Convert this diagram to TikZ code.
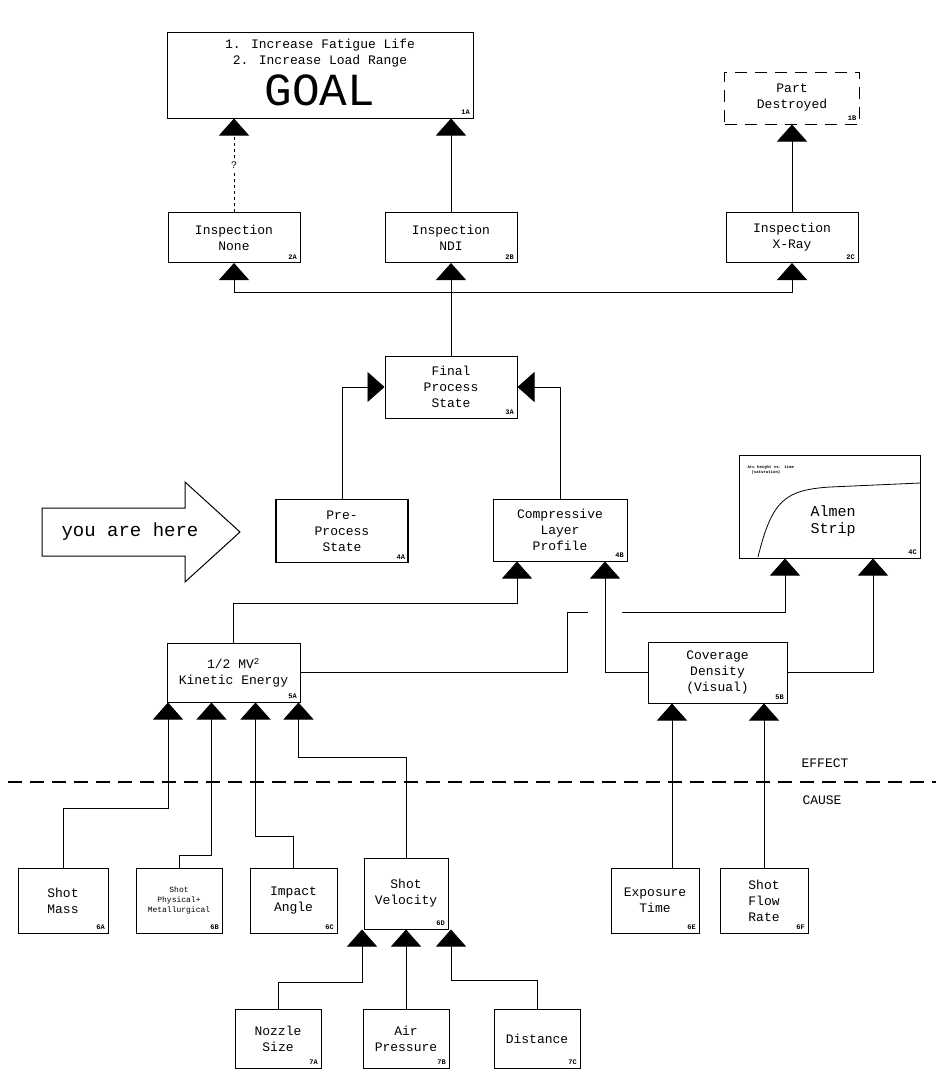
\documentclass[tikz,border=0pt]{standalone}
\usepackage{fontspec}
\setmainfont{Liberation Mono}
\usetikzlibrary{arrows.meta,positioning}

\begin{document}
\begin{tikzpicture}[x=1pt,y=-1pt]
\tikzset{box/.style={draw,line width=1pt,minimum width=132pt,minimum height=50pt,inner sep=2pt,align=center,font=\fontsize{13}{16}\selectfont},
         small/.style={box,minimum width=87pt,minimum height=65pt},
         idtag/.style={font=\fontsize{7}{8}\selectfont\bfseries,inner sep=1.5pt,anchor=south east},
         flow/.style={line width=0.9pt,-{Triangle[width=30pt,length=17pt]}},
         wire/.style={line width=0.9pt}}
\useasboundingbox (0,0) rectangle (936,1076);

% goal row
\node[box,minimum width=306pt,minimum height=86pt,inner sep=0pt] (goal) at (320,75) {1. Increase Fatigue Life\\2. Increase Load Range\\[30pt]};
\node[font=\fontsize{46}{46}\selectfont,inner sep=0pt] (goal-txt) at (320,90) {GOAL};
\node[box,dashed,dash pattern=on 12pt off 8pt,minimum width=135pt,minimum height=52pt] (dest) at (792,98) {Part\\Destroyed};
\node[idtag] (goal-id) at ([xshift=-2pt,yshift=2pt]goal.south east) {1A};
\node[idtag] (dest-id) at ([xshift=-2pt,yshift=2pt]dest.south east) {1B};

% inspection
\node[box] (insA) at (234,237.5) {Inspection\\None};
\node[box] (insB) at (451,237.5) {Inspection\\NDI};
\node[box] (insC) at (792,237.5) {Inspection\\X-Ray};
\node[idtag] (insA-id) at ([xshift=-2pt,yshift=2pt]insA.south east) {2A};
\node[idtag] (insB-id) at ([xshift=-2pt,yshift=2pt]insB.south east) {2B};
\node[idtag] (insC-id) at ([xshift=-2pt,yshift=2pt]insC.south east) {2C};

\draw[flow,dashed] (insA.north) -- node[fill=white,inner sep=1pt] (qmark) {?} (goal.south -| insA.north);
\draw[flow] (insB.north) -- (goal.south -| insB.north);
\draw[flow] (insC.north) -- (dest.south);

% final state
\node[box,minimum height=62pt] (final) at (451,387) {Final\\Process\\State};
\node[idtag] (final-id) at ([xshift=-2pt,yshift=2pt]final.south east) {3A};
\coordinate (bus) at (451,292);
\draw[flow] (final.north) -- (insB.south);
\draw[flow] (bus) -| (insA.south);
\draw[flow] (bus) -| (insC.south);

% you are here
\draw[line width=1pt] (42,508) -- (185,508) -- (185,482) -- (240,532) -- (185,582) -- (185,556) -- (42,556) -- cycle;
\node[font=\fontsize{19}{20}\selectfont] (here) at (130,532) {you are here};

% level 4
\node[box,line width=1.6pt,minimum height=63pt] (pre) at (342,531) {Pre-\\Process\\State};
\node[box,minimum width=134pt,minimum height=62pt] (comp) at (560,530) {Compressive\\Layer\\Profile};
\node[box,minimum width=181pt,minimum height=103pt] (almen) at (829.5,506.5) {};
\node[font=\fontsize{15}{17}\selectfont,align=center] (almen-txt) at (833,521) {Almen\\Strip};
\node[font=\fontsize{4}{5}\selectfont\bfseries,align=left,anchor=north west] (almen-note) at (744,462) {Arc height vs. time\\\quad(saturation)};
\draw[line width=0.8pt] (758,557) .. controls (772,500) and (785,490) .. (830,487) -- (almen.east |- 0,483);
\node[idtag] (pre-id) at ([xshift=-2pt,yshift=2pt]pre.south east) {4A};
\node[idtag] (comp-id) at ([xshift=-2pt,yshift=2pt]comp.south east) {4B};
\node[idtag] (almen-id) at ([xshift=-2pt,yshift=2pt]almen.south east) {4C};

\draw[flow] (pre.north) |- (final.west);
\draw[flow] (comp.north) |- (final.east);

% level 5
\node[box,minimum width=133pt,minimum height=59pt] (ke) at (233.5,672.5) {1/2 MV\textsuperscript{2}\\Kinetic Energy};
\node[box,minimum width=139pt,minimum height=61pt] (cov) at (717.5,672.5) {Coverage\\Density\\(Visual)};
\node[idtag] (ke-id) at ([xshift=-2pt,yshift=2pt]ke.south east) {5A};
\node[idtag] (cov-id) at ([xshift=-2pt,yshift=2pt]cov.south east) {5B};

\draw[flow] (ke.north) -- (ke.north |- 0,603) -| ([xshift=-43pt]comp.south);
\draw[flow] (cov.west) -| ([xshift=45pt]comp.south);
\draw[wire] (ke.east) -| (567,612) coordinate (hopL) -- (588,612);
\draw[flow] (622,612) -| ([xshift=-44.5pt]almen.south);
\draw[flow] (cov.east) -| ([xshift=43.5pt]almen.south);

% effect / cause
\draw[line width=1.2pt,dash pattern=on 14pt off 8pt] (8,782) -- (936,782);
\node[font=\fontsize{13}{14}\selectfont] (effect) at (825,763) {EFFECT};
\node[font=\fontsize{13}{14}\selectfont] (cause) at (822,800) {CAUSE};

% level 6
\node[small,minimum width=90pt] (mass) at (63,900.5) {Shot\\Mass};
\node[small,minimum width=86pt,font=\fontsize{8}{10}\selectfont] (phys) at (179,900.5) {Shot\\Physical+\\Metallurgical};
\node[small] (angle) at (293.5,900.5) {Impact\\Angle};
\node[small,minimum width=84pt,minimum height=71pt] (vel) at (406,893.5) {Shot\\Velocity};
\node[small,minimum width=88pt] (expo) at (655,900.5) {Exposure\\Time};
\node[small,minimum width=88pt] (flowr) at (764,900.5) {Shot\\Flow\\Rate};
\foreach \n/\t in {mass/6A,phys/6B,angle/6C,vel/6D,expo/6E,flowr/6F}
  \node[idtag] (\n-id) at ([xshift=-2pt,yshift=2pt]\n.south east) {\t};

\draw[flow] (mass.north) -- (mass.north |- 0,808) -| ([xshift=-65.5pt]ke.south);
\draw[flow] (phys.north) -- (phys.north |- 0,855) -| ([xshift=-22pt]ke.south);
\draw[flow] (angle.north) -- (angle.north |- 0,836) -| ([xshift=22pt]ke.south);
\draw[flow] (vel.north) -- (vel.north |- 0,757) -| ([xshift=65pt]ke.south);
\draw[flow] ([xshift=-45.5pt]cov.south |- expo.north) -- ([xshift=-45.5pt]cov.south);
\draw[flow] (flowr.north) -- (cov.south -| flowr.north);

% level 7
\node[box,minimum width=86pt,minimum height=59pt] (nozzle) at (278,1038.5) {Nozzle\\Size};
\node[box,minimum width=86pt,minimum height=59pt] (air) at (406,1038.5) {Air\\Pressure};
\node[box,minimum width=86pt,minimum height=59pt] (dist) at (537,1038.5) {Distance};
\foreach \n/\t in {nozzle/7A,air/7B,dist/7C}
  \node[idtag] (\n-id) at ([xshift=-2pt,yshift=2pt]\n.south east) {\t};

\draw[flow] (nozzle.north) -- (nozzle.north |- 0,982) -| ([xshift=-44pt]vel.south);
\draw[flow] (air.north) -- (vel.south);
\draw[flow] (dist.north) -- (dist.north |- 0,980) -| ([xshift=45pt]vel.south);
\end{tikzpicture}
\end{document}
